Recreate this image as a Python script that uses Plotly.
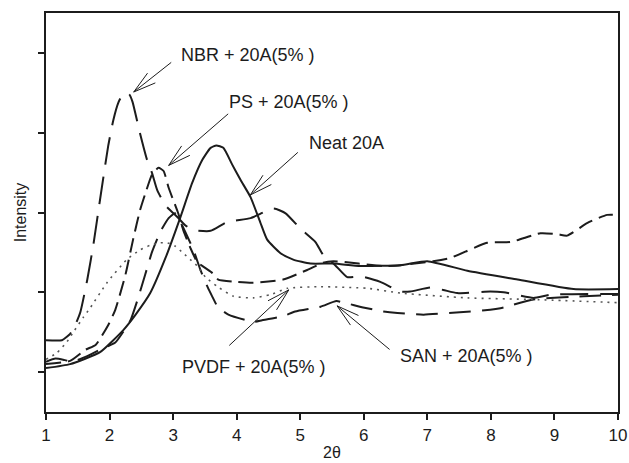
import math
import plotly.graph_objects as go

# ---- data ----
neat_x = [1.00, 1.38, 1.85, 2.22, 2.41, 2.64, 2.88, 3.11, 3.30, 3.46, 3.59, 3.68, 3.79, 3.93,
          4.06, 4.22, 4.37, 4.48, 4.69, 4.89, 5.16, 5.52, 5.95, 6.58, 7.00, 7.63, 8.42, 9.30, 10.0]
neat_y = [1.05, 1.10, 1.25, 1.53, 1.72, 1.99, 2.43, 2.93, 3.37, 3.66, 3.81, 3.84, 3.81, 3.60,
          3.41, 3.19, 2.88, 2.66, 2.49, 2.41, 2.36, 2.36, 2.33, 2.34, 2.39, 2.27, 2.16, 2.04, 2.04]

nbr_x = [1.00, 1.25, 1.38, 1.46, 1.54, 1.65, 1.75, 1.85, 1.98, 2.06, 2.14, 2.20, 2.25, 2.31,
         2.36, 2.48, 2.59, 2.67, 2.75, 2.88, 3.07, 3.19, 3.32, 3.59, 3.85, 4.22, 4.58, 4.77,
         5.00, 5.24, 5.36, 5.55, 5.74, 5.95, 6.26, 6.58, 6.73, 7.05, 7.25, 7.47, 7.99, 8.20,
         8.67, 8.94, 10.0]
nbr_y = [1.40, 1.40, 1.48, 1.59, 1.75, 2.16, 2.62, 3.16, 3.84, 4.16, 4.38, 4.47, 4.50, 4.48,
         4.39, 3.99, 3.66, 3.49, 3.28, 3.09, 2.94, 2.84, 2.78, 2.77, 2.88, 2.93, 3.05, 2.99,
         2.80, 2.63, 2.47, 2.34, 2.19, 2.20, 2.13, 2.01, 2.01, 2.06, 2.03, 1.99, 2.01, 2.00,
         1.93, 1.97, 1.98]

ps_x = [1.00, 1.38, 1.62, 1.78, 1.98, 2.09, 2.25, 2.37, 2.48, 2.58, 2.67, 2.77, 2.85, 2.93,
        3.00, 3.08, 3.16, 3.27, 3.38, 3.62, 3.71, 4.01, 4.26, 4.73, 5.11, 5.36, 5.52, 6.31,
        6.58, 7.09, 7.36, 7.94, 8.31, 8.78, 9.04, 9.20, 9.52, 9.83, 10.0]
ps_y = [1.10, 1.14, 1.28, 1.34, 1.59, 1.78, 2.22, 2.66, 3.03, 3.28, 3.48, 3.56, 3.52, 3.31,
        3.16, 2.99, 2.78, 2.56, 2.38, 2.24, 2.16, 2.13, 2.12, 2.16, 2.28, 2.37, 2.39, 2.33,
        2.34, 2.39, 2.43, 2.62, 2.63, 2.74, 2.73, 2.71, 2.87, 2.97, 2.97]

san_x = [1.00, 1.15, 1.30, 1.41, 1.62, 1.85, 2.09, 2.22, 2.33, 2.45, 2.56, 2.67, 2.80, 2.93,
         3.03, 3.14, 3.32, 3.43, 3.54, 3.62, 3.70, 3.87, 4.26, 4.40, 4.73, 4.92, 5.32, 5.57,
         5.74, 5.99, 6.31, 6.53, 6.94, 7.51, 7.99, 8.15, 8.67, 9.46, 10.0]
san_y = [1.13, 1.17, 1.15, 1.13, 1.19, 1.28, 1.37, 1.51, 1.65, 1.93, 2.22, 2.51, 2.76, 2.93,
         2.99, 2.84, 2.53, 2.28, 2.07, 1.94, 1.82, 1.72, 1.63, 1.65, 1.70, 1.76, 1.82, 1.89,
         1.86, 1.81, 1.76, 1.74, 1.72, 1.75, 1.78, 1.80, 1.91, 1.95, 1.97]

pvdf_x = [1.00, 1.17, 1.33, 1.43, 1.59, 1.70, 1.96, 2.27, 2.48, 2.64, 2.80, 2.91, 3.03, 3.16,
          3.27, 3.38, 3.51, 3.70, 3.95, 4.26, 4.53, 4.80, 5.32, 6.06, 6.58, 7.63, 8.67, 10.0]
pvdf_y = [1.16, 1.24, 1.38, 1.50, 1.69, 1.81, 2.12, 2.41, 2.53, 2.59, 2.62, 2.62, 2.58, 2.49,
          2.41, 2.33, 2.19, 2.07, 1.95, 1.93, 1.97, 2.05, 2.07, 2.05, 1.99, 1.93, 1.91, 1.87]

x_ticks = [1, 2, 3, 4, 5, 6, 7, 8, 9, 10]
y_ticks = [1, 2, 3, 4, 5]

labels = ["NBR + 20A(5% )", "PS + 20A(5% )", "Neat 20A", "PVDF + 20A(5% )", "SAN + 20A(5% )"]
label_x = [4.18, 4.83, 5.73, 4.28, 7.62]
label_y = [4.97, 4.39, 3.87, 1.07, 1.20]
tip_x = [2.38, 2.93, 4.215, 4.82, 5.58]
tip_y = [4.51, 3.59, 3.22, 2.03, 1.83]
tail_dx = [38, 60, 48, -60, 53]     # pixel offsets tail - tip
tail_dy = [-30, -52, -43, 56, 44]

FONT = "Liberation Sans, Arial, Helvetica, sans-serif"
INK = "#1c1c1c"

fig = go.Figure()
series = [
    (neat_x, neat_y, "solid", 2.0, INK),
    (nbr_x, nbr_y, "28px,12px", 2.0, INK),
    (ps_x, ps_y, "15px,7px", 2.0, INK),
    (san_x, san_y, "22px,11px", 2.0, INK),
    (pvdf_x, pvdf_y, "2px,5px", 1.6, "#555555"),
]
for xs, ys, dash, w, col in series:
    fig.add_trace(go.Scatter(x=xs, y=ys, mode="lines",
                             line=dict(color=col, width=w, dash=dash, shape="spline", smoothing=0.5),
                             showlegend=False, hoverinfo="skip"))

annotations = []
for txt, lx, ly in zip(labels, label_x, label_y):
    annotations.append(dict(x=lx, y=ly, xref="x", yref="y", text=txt, showarrow=False,
                            font=dict(family=FONT, size=18, color=INK)))
for tx, ty, dx, dy in zip(tip_x, tip_y, tail_dx, tail_dy):
    annotations.append(dict(x=tx, y=ty, xref="x", yref="y", ax=dx, ay=dy, text="",
                            showarrow=True, arrowhead=0, arrowwidth=1, arrowcolor=INK, borderpad=0))
    ang = math.atan2(dy, dx)
    for s in (-0.27, 0.27):
        L = 24
        annotations.append(dict(x=tx, y=ty, xref="x", yref="y",
                                ax=L * math.cos(ang + s), ay=L * math.sin(ang + s), text="",
                                showarrow=True, arrowhead=0, arrowwidth=1, arrowcolor=INK,
                                borderpad=0))
# x-axis title
annotations.append(dict(x=0.5, y=0, xref="paper", yref="paper", text="2θ", showarrow=False,
                        yanchor="middle", yshift=-40, borderpad=0,
                        font=dict(family=FONT, size=16, color=INK)))

fig.update_layout(
    width=629, height=463,
    margin=dict(l=46, r=11, t=13, b=51),
    paper_bgcolor="white", plot_bgcolor="white",
    font=dict(family=FONT, color=INK),
    annotations=annotations,
    xaxis=dict(range=[1, 10], tickvals=x_ticks, ticks="outside", ticklen=6, tickwidth=1.5,
               tickcolor=INK, showline=True, linecolor=INK, linewidth=1.5, mirror=True,
               showgrid=False, zeroline=False, ticklabelstandoff=1, automargin=False,
               tickfont=dict(size=17, family=FONT, color=INK)),
    yaxis=dict(range=[0.5, 5.5], tickvals=y_ticks, showticklabels=False, ticks="outside",
               ticklen=6, tickwidth=1.5, tickcolor=INK, showline=True, linecolor=INK,
               linewidth=1.5, mirror=True, showgrid=False, zeroline=False, automargin=False,
               title=dict(text="Intensity", font=dict(size=16, family=FONT, color=INK), standoff=8)),
)

fig.write_html("out.html")
